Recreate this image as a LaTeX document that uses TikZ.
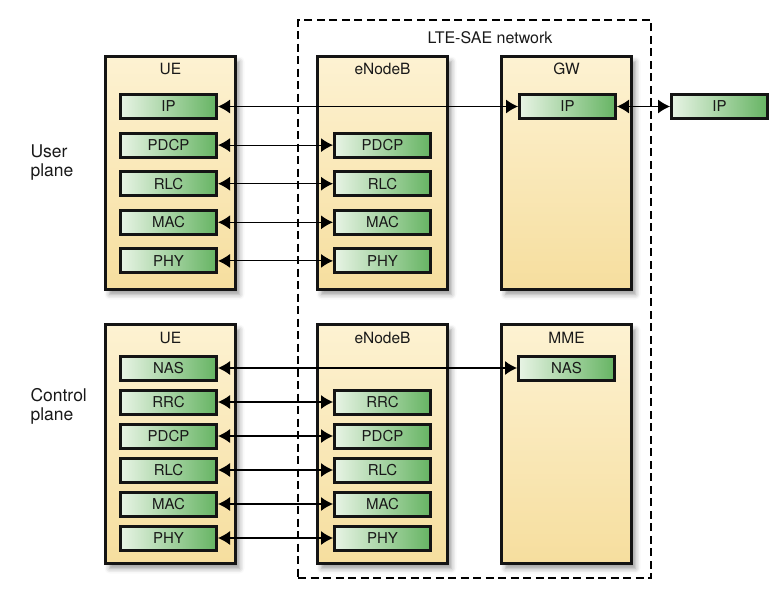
\documentclass[tikz,border=0pt]{standalone}
\usepackage{fontspec}
\setmainfont{TeX Gyre Heros}
\usepackage{tikz}
\usetikzlibrary{arrows.meta, positioning, shadows, shadows.blur}
\definecolor{ENTtop}{HTML}{FDF2D2}
\definecolor{ENTbot}{HTML}{F6DE9E}
\definecolor{LAYlft}{HTML}{E8F4E5}
\definecolor{LAYrgt}{HTML}{66B463}
\tikzset{
  ENT/.style={% Style for network entity boxes
      rectangle, line width=3.4pt,
      draw=black!92,
      minimum width=130pt,
      minimum height=233pt,
      top color=ENTtop, bottom color=ENTbot,
      blur shadow={shadow xshift=4pt, shadow yshift=-5pt, shadow blur radius=5pt, shadow opacity=40},
  },
  LAY/.style={% Style for protocol layer boxes
      rectangle, line width=3pt,
      draw=black!92,
      minimum width=96pt,
      minimum height=24pt,
      inner sep=0pt,
      left color=LAYlft, right color=LAYrgt,
  },
  TIT/.style={% Style for entity titles
      font=\fontsize{15.5}{18}\selectfont
  },
  PLN/.style={% Style for plane captions
      align=left, anchor=west,
      font=\fontsize{17.5}{19}\selectfont
  },
  peer/.style={% peer-to-peer link
    {Latex[length=12pt,width=14pt]}-{Latex[length=12pt,width=14pt]},
    line width=1.1pt
  },
  every node/.style={font=\fontsize{15}{18}\selectfont, text=black!90}
}

\begin{document}
\begin{tikzpicture}[x=1pt,y=-1pt]
    \useasboundingbox (0,0) rectangle (781,592);
    % network border
    \node[draw, line width=1.8pt, dash pattern=on 8pt off 4.5pt, minimum width=353pt, minimum height=558pt] (net) at (474.5,299) {};
    \node[TIT, font=\fontsize{16}{18}\selectfont] (netT) at (490,38) {LTE-SAE network};
    \node[PLN] (userT) at (27,163) {User\\plane};
    \node[PLN] (ctrlT) at (27,406) {Control\\plane};

    % user plane
    \node[ENT] (ue1) at (170.5,173) {};
    \node[ENT] (enb1) at (382.5,173) {};
    \node[ENT] (gw) at (566.5,173) {};
    \node[TIT] (ue1T) at ([yshift=-14pt]ue1.north) {UE};
    \node[TIT] (enb1T) at ([yshift=-14pt]enb1.north) {eNodeB};
    \node[TIT] (gwT) at ([yshift=-14pt]gw.north) {GW};
    \foreach \n [count=\i] in {IP,PDCP,RLC,MAC,PHY} {%
        \node[LAY] (ue1-\n) at (168.5,{106.5+38.6*(\i-1)}) {\n};
    }
    \foreach \n [count=\i from 2] in {PDCP,RLC,MAC,PHY} {%
        \node[LAY] (enb1-\n) at (382.5,{106.5+38.6*(\i-1)}) {\n};
        \draw[peer] (ue1-\n.east) -- (enb1-\n.west);
    }
    \node[LAY] (gw-IP) at (567.5,106.5) {IP};
    \node[LAY] (ext-IP) at (719.5,106.5) {IP};
    \draw[peer] (ue1-IP.east) -- (gw-IP.west);
    \draw[peer] (gw-IP.east) -- (ext-IP.west);

    % control plane
    \node[ENT, minimum height=239pt] (ue2) at (170.5,444) {};
    \node[ENT, minimum height=239pt] (enb2) at (382.5,444) {};
    \node[ENT, minimum height=239pt] (mme) at (566.5,444) {};
    \node[TIT] (ue2T) at ([yshift=-15pt]ue2.north) {UE};
    \node[TIT] (enb2T) at ([yshift=-15pt]enb2.north) {eNodeB};
    \node[TIT] (mmeT) at ([yshift=-15pt]mme.north) {MME};
    \foreach \n [count=\i] in {NAS,RRC,PDCP,RLC,MAC,PHY} {%
        \node[LAY] (ue2-\n) at (168.5,{368+34*(\i-1)}) {\n};
    }
    \foreach \n [count=\i from 2] in {RRC,PDCP,RLC,MAC,PHY} {%
        \node[LAY] (enb2-\n) at (382.5,{368+34*(\i-1)}) {\n};
        \draw[peer] (ue2-\n.east) -- (enb2-\n.west);
    }
    \node[LAY] (mme-NAS) at (566.5,368) {NAS};
    \draw[peer] (ue2-NAS.east) -- (mme-NAS.west);
\end{tikzpicture}
\end{document}
